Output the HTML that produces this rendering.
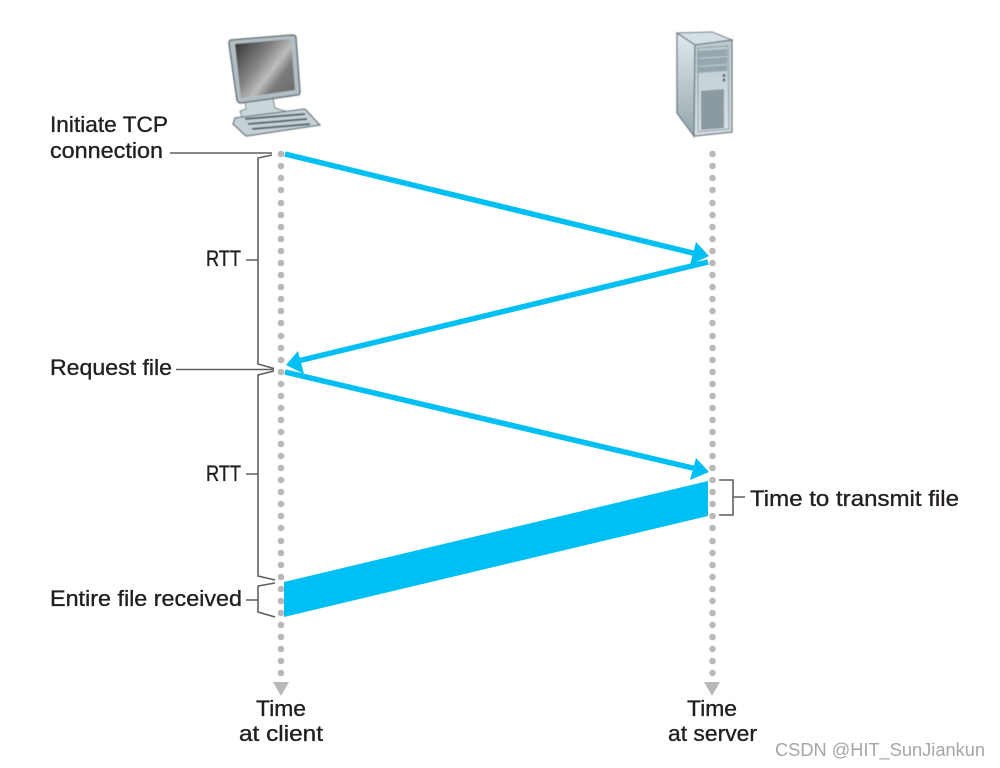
<!DOCTYPE html>
<html><head><meta charset="utf-8"><style>
html,body{margin:0;padding:0;background:#fff}
svg{display:block}
text{font-family:"Liberation Sans",sans-serif;font-size:22.500px;fill:#231f20;stroke:#231f20;stroke-width:.35px}
</style></head><body>
<svg width="1000" height="768" viewBox="0 0 1000 768" xmlns="http://www.w3.org/2000/svg">
<defs>
<linearGradient id="scr" x1="0" y1="0" x2="1" y2="0.75"><stop offset="0" stop-color="#2f2f2f"/><stop offset=".45" stop-color="#858585"/><stop offset=".65" stop-color="#bdbdbd"/><stop offset=".8" stop-color="#7c7c7c"/><stop offset="1" stop-color="#6e6e6e"/></linearGradient>
<linearGradient id="side" x1="0" y1="0" x2="0" y2="1"><stop offset="0" stop-color="#dfe9ed"/><stop offset="1" stop-color="#95a7ad"/></linearGradient>
<linearGradient id="front" x1="0" y1="0" x2="0" y2="1"><stop offset="0" stop-color="#bcc9ce"/><stop offset="1" stop-color="#d8e2e6"/></linearGradient>
<filter id="soft" x="-5%" y="-5%" width="110%" height="110%"><feGaussianBlur stdDeviation=".5"/></filter>
</defs>

<!-- computer -->
<g filter="url(#soft)">
<path d="M245 102 L273 98 L275 108 L285 111 L282 115 L242 118 L240 111 L246 109Z" fill="#cbd6da" stroke="#7b888e"/>
<path d="M231 40 L292 35 Q296 35 296 38 L300 92 Q300 95 297 95 L241 103 Q238 103 237 100 L229 44 Q229 40 231 40Z" fill="#b2bec3" stroke="#69767c" stroke-width="1.500"/>
<path d="M235 44 L291 39 L295 90 L241 98Z" fill="url(#scr)"/>
<path d="M235 118 L305 109 L320 125 L246 136 L233 124Z" fill="#c5d1d6" stroke="#6f7c82" stroke-width="1.300"/>
<path d="M245 119 L305 114 M248 124 L307 119 M252 129 L310 124" stroke="#56646b" stroke-width="2" fill="none"/>
</g>

<!-- server -->
<g filter="url(#soft)">
<path d="M677 33 L712 32 L732 40 L695 45Z" fill="#d5e0e4" stroke="#6f7c82"/>
<path d="M677 33 L695 45 L694 136 L677 113Z" fill="url(#side)" stroke="#6f7c82" stroke-width="1.300"/>
<path d="M695 45 L732 40 L732 132 L694 136Z" fill="url(#front)" stroke="#6f7c82" stroke-width="1.300"/>
<path d="M698 48 L728 46 L729 129 L698 132Z" fill="none" stroke="#8c9a9f"/>
<path d="M697 51 L727 49 L727 56 L697 58Z M697 59 L727 57 L727 64 L697 66Z M697 67 L727 65 L727 71 L697 73Z" fill="#94a7ad"/>
<circle cx="724" cy="75.500" r="1.500" fill="#55636a"/><circle cx="724" cy="80" r="1.500" fill="#55636a"/>
<path d="M701 91 L724 89 L724 128 L701 130Z" fill="#8b9aa0"/>
</g>

<!-- dotted lifelines -->
<g fill="#b9b9bb">
<circle cx="281" cy="154" r="3.300"/><circle cx="281" cy="166" r="3.300"/><circle cx="281" cy="178" r="3.300"/><circle cx="281" cy="190" r="3.300"/><circle cx="281" cy="203" r="3.300"/><circle cx="281" cy="215" r="3.300"/><circle cx="281" cy="227" r="3.300"/><circle cx="281" cy="239" r="3.300"/><circle cx="281" cy="251" r="3.300"/><circle cx="281" cy="263" r="3.300"/><circle cx="281" cy="275" r="3.300"/><circle cx="281" cy="287" r="3.300"/><circle cx="281" cy="299" r="3.300"/><circle cx="281" cy="311" r="3.300"/><circle cx="281" cy="323" r="3.300"/><circle cx="281" cy="336" r="3.300"/><circle cx="281" cy="348" r="3.300"/><circle cx="281" cy="360" r="3.300"/><circle cx="281" cy="372" r="3.300"/><circle cx="281" cy="384" r="3.300"/><circle cx="281" cy="396" r="3.300"/><circle cx="281" cy="408" r="3.300"/><circle cx="281" cy="420" r="3.300"/><circle cx="281" cy="432" r="3.300"/><circle cx="281" cy="444" r="3.300"/><circle cx="281" cy="456" r="3.300"/><circle cx="281" cy="468" r="3.300"/><circle cx="281" cy="480" r="3.300"/><circle cx="281" cy="492" r="3.300"/><circle cx="281" cy="504" r="3.300"/><circle cx="281" cy="516" r="3.300"/><circle cx="281" cy="528" r="3.300"/><circle cx="281" cy="541" r="3.300"/><circle cx="281" cy="553" r="3.300"/><circle cx="281" cy="565" r="3.300"/><circle cx="281" cy="577" r="3.300"/><circle cx="281" cy="589" r="3.300"/><circle cx="281" cy="601" r="3.300"/><circle cx="281" cy="613" r="3.300"/><circle cx="281" cy="625" r="3.300"/><circle cx="281" cy="637" r="3.300"/><circle cx="281" cy="649" r="3.300"/><circle cx="281" cy="661" r="3.300"/><circle cx="281" cy="673" r="3.300"/>
<circle cx="712.500" cy="154" r="3.300"/><circle cx="712.500" cy="166" r="3.300"/><circle cx="712.500" cy="178" r="3.300"/><circle cx="712.500" cy="190" r="3.300"/><circle cx="712.500" cy="203" r="3.300"/><circle cx="712.500" cy="215" r="3.300"/><circle cx="712.500" cy="227" r="3.300"/><circle cx="712.500" cy="239" r="3.300"/><circle cx="712.500" cy="251" r="3.300"/><circle cx="712.500" cy="263" r="3.300"/><circle cx="712.500" cy="275" r="3.300"/><circle cx="712.500" cy="287" r="3.300"/><circle cx="712.500" cy="299" r="3.300"/><circle cx="712.500" cy="311" r="3.300"/><circle cx="712.500" cy="323" r="3.300"/><circle cx="712.500" cy="336" r="3.300"/><circle cx="712.500" cy="348" r="3.300"/><circle cx="712.500" cy="360" r="3.300"/><circle cx="712.500" cy="372" r="3.300"/><circle cx="712.500" cy="384" r="3.300"/><circle cx="712.500" cy="396" r="3.300"/><circle cx="712.500" cy="408" r="3.300"/><circle cx="712.500" cy="420" r="3.300"/><circle cx="712.500" cy="432" r="3.300"/><circle cx="712.500" cy="444" r="3.300"/><circle cx="712.500" cy="456" r="3.300"/><circle cx="712.500" cy="468" r="3.300"/><circle cx="712.500" cy="480" r="3.300"/><circle cx="712.500" cy="492" r="3.300"/><circle cx="712.500" cy="504" r="3.300"/><circle cx="712.500" cy="516" r="3.300"/><circle cx="712.500" cy="528" r="3.300"/><circle cx="712.500" cy="541" r="3.300"/><circle cx="712.500" cy="553" r="3.300"/><circle cx="712.500" cy="565" r="3.300"/><circle cx="712.500" cy="577" r="3.300"/><circle cx="712.500" cy="589" r="3.300"/><circle cx="712.500" cy="601" r="3.300"/><circle cx="712.500" cy="613" r="3.300"/><circle cx="712.500" cy="625" r="3.300"/><circle cx="712.500" cy="637" r="3.300"/><circle cx="712.500" cy="649" r="3.300"/><circle cx="712.500" cy="661" r="3.300"/><circle cx="712.500" cy="673" r="3.300"/>
<path d="M273 682 H289 L281 696Z M704 682 H720 L712 696Z"/>
</g>

<!-- blue arrows -->
<g stroke="#00bff3" stroke-width="5.500" fill="none">
<path d="M285 154 L697 254"/>
<path d="M708 262 L298 361"/>
<path d="M285 372 L697 469"/>
</g>
<g fill="#00bff3">
<path d="M709 256 L690 265 L696 242Z"/>
<path d="M286 365 L304 374 L298 351Z"/>
<path d="M709 472 L690 480 L696 458Z"/>
<path d="M708 481 L708 516 L284 617 L284 582Z"/>
</g>

<!-- brackets and leaders -->
<g stroke="#5f5f61" stroke-width="1.600" fill="none">
<path d="M170 153 H272"/>
<path d="M272 155 L258 158 V364 L274 368.500"/>
<path d="M176 369.500 H274"/>
<path d="M274 371 L258 375 V576 L275 580"/>
<path d="M275 583 L258 586 V612 L275 617"/>
<path d="M246 260 H258 M246 474 H258 M246 600 H258"/>
<path d="M719 480 H733 V515 H719 M733 497 H745"/>
</g>

<!-- labels -->
<text x="50" y="132" textLength="118" lengthAdjust="spacingAndGlyphs">Initiate TCP</text>
<text x="50" y="158" textLength="113" lengthAdjust="spacingAndGlyphs">connection</text>
<text x="206" y="266" textLength="35" lengthAdjust="spacingAndGlyphs">RTT</text>
<text x="50" y="375" textLength="122" lengthAdjust="spacingAndGlyphs">Request file</text>
<text x="206" y="481" textLength="35" lengthAdjust="spacingAndGlyphs">RTT</text>
<text x="750" y="506" textLength="209" lengthAdjust="spacingAndGlyphs">Time to transmit file</text>
<text x="50" y="606" textLength="192" lengthAdjust="spacingAndGlyphs">Entire file received</text>
<text x="256" y="716" textLength="50" lengthAdjust="spacingAndGlyphs">Time</text>
<text x="239" y="741" textLength="84" lengthAdjust="spacingAndGlyphs">at client</text>
<text x="687" y="716" textLength="50" lengthAdjust="spacingAndGlyphs">Time</text>
<text x="668" y="741" textLength="89" lengthAdjust="spacingAndGlyphs">at server</text>
<text x="775" y="756" textLength="210" lengthAdjust="spacingAndGlyphs" style="font-size:18px;fill:#a6a6a6;stroke:none">CSDN @HIT_SunJiankun</text>
</svg>
</body></html>
